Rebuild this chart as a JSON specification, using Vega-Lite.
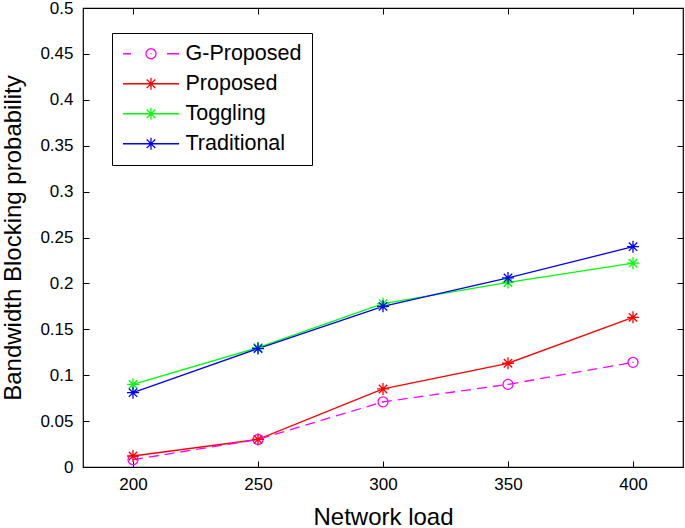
{
  "$schema": "https://vega.github.io/schema/vega-lite/v6.json",
  "width": 600,
  "height": 459,
  "autosize": "none",
  "padding": {"left": 83, "top": 8, "right": 2, "bottom": 61},
  "background": "white",
  "config": {
    "font": "Liberation Sans",
    "view": {"stroke": "black", "strokeWidth": 1.2},
    "axis": {"grid": false, "domain": false, "tickColor": "black", "tickSize": -6, "labelColor": "black", "labelFontSize": 17, "labelFont": "Liberation Sans", "titleFont": "Liberation Sans", "titleFontWeight": "normal", "titleFontSize": 24, "titleColor": "black"},
    "legend": {
      "orient": "none", "legendX": 29, "legendY": 25,
      "padding": 10, "strokeColor": "black", "fillColor": "white",
      "labelFontSize": 21.5, "labelFont": "Liberation Sans", "labelColor": "black",
      "symbolSize": 100, "labelOffset": 42, "rowPadding": 7
    }
  },
  "data": {
    "values": [
      {"load": 200, "series": "G-Proposed", "p": 0.008},
      {"load": 250, "series": "G-Proposed", "p": 0.030},
      {"load": 300, "series": "G-Proposed", "p": 0.071},
      {"load": 350, "series": "G-Proposed", "p": 0.090},
      {"load": 400, "series": "G-Proposed", "p": 0.114},
      {"load": 200, "series": "Proposed", "p": 0.012},
      {"load": 250, "series": "Proposed", "p": 0.030},
      {"load": 300, "series": "Proposed", "p": 0.085},
      {"load": 350, "series": "Proposed", "p": 0.113},
      {"load": 400, "series": "Proposed", "p": 0.163},
      {"load": 200, "series": "Toggling", "p": 0.090},
      {"load": 250, "series": "Toggling", "p": 0.130},
      {"load": 300, "series": "Toggling", "p": 0.178},
      {"load": 350, "series": "Toggling", "p": 0.201},
      {"load": 400, "series": "Toggling", "p": 0.222},
      {"load": 200, "series": "Traditional", "p": 0.081},
      {"load": 250, "series": "Traditional", "p": 0.129},
      {"load": 300, "series": "Traditional", "p": 0.175},
      {"load": 350, "series": "Traditional", "p": 0.206},
      {"load": 400, "series": "Traditional", "p": 0.240}
    ]
  },
  "layer": [
    {
      "transform": [{"filter": "datum.series !== 'G-Proposed'"}],
      "mark": {"type": "line", "strokeWidth": 1.3},
      "encoding": {
        "x": {"field": "load", "type": "quantitative", "scale": {"domain": [180, 420], "nice": false, "zero": false}, "axis": {"values": [200, 250, 300, 350, 400], "title": "Network load", "labelPadding": 15, "titlePadding": 13}},
        "y": {"field": "p", "type": "quantitative", "scale": {"domain": [0, 0.5], "nice": false}, "axis": {"values": [0, 0.05, 0.1, 0.15, 0.2, 0.25, 0.3, 0.35, 0.4, 0.45, 0.5], "format": ".2~f", "title": "Bandwidth Blocking probability", "labelPadding": 16, "titlePadding": 14}},
        "color": {
          "field": "series", "type": "nominal",
          "scale": {"domain": ["G-Proposed", "Proposed", "Toggling", "Traditional"], "range": ["#ff00ff", "#ff0000", "#00ff00", "#0000ff"]},
          "legend": {
            "title": null,
            "encoding": {
              "symbols": {
                "shape": {"value": {"expr": "datum.value === 'G-Proposed' ? 'M-5.6,0L-4,0M3.2,0L5.6,0M-1,0A1,1 0 1,0 1,0A1,1 0 1,0 -1,0M0,-0.1L0,0.1' : 'M-5.6,0L5.6,0M0,-1.2L0,1.2M-0.85,-0.85L0.85,0.85M-0.85,0.85L0.85,-0.85'"}},
                "fill": {"value": "transparent"},
                "strokeDash": {"value": [1, 0]},
                "strokeWidth": {"value": 1.3},
                "opacity": {"value": 1},
                "xc": {"value": 29}
              }
            }
          }
        }
      }
    },
    {
      "transform": [{"filter": "datum.series === 'G-Proposed'"}],
      "mark": {"type": "line", "strokeWidth": 1.3, "strokeDash": [10, 6]},
      "encoding": {
        "x": {"field": "load", "type": "quantitative", "axis": {"orient": "top", "values": [200, 250, 300, 350, 400], "labels": false, "title": null}},
        "y": {"field": "p", "type": "quantitative", "axis": {"orient": "right", "values": [0, 0.05, 0.1, 0.15, 0.2, 0.25, 0.3, 0.35, 0.4, 0.45, 0.5], "labels": false, "title": null}},
        "color": {"field": "series", "type": "nominal"}
      }
    },
    {
      "transform": [{"filter": "datum.series === 'G-Proposed'"}],
      "mark": {"type": "point", "filled": false, "size": 144, "strokeWidth": 1.3, "opacity": 1, "shape": "M-0.83,0A0.83,0.83 0 1,0 0.83,0A0.83,0.83 0 1,0 -0.83,0M0,-0.1L0,0.1"},
      "encoding": {
        "x": {"field": "load", "type": "quantitative", "axis": null},
        "y": {"field": "p", "type": "quantitative", "axis": null},
        "color": {"field": "series", "type": "nominal"}
      }
    },
    {
      "transform": [{"filter": "datum.series !== 'G-Proposed'"}],
      "mark": {"type": "point", "filled": false, "size": 144, "strokeWidth": 1.3, "opacity": 1, "shape": "M-1,0L1,0M0,-1L0,1M-0.7,-0.7L0.7,0.7M-0.7,0.7L0.7,-0.7"},
      "encoding": {
        "x": {"field": "load", "type": "quantitative", "axis": null},
        "y": {"field": "p", "type": "quantitative", "axis": null},
        "color": {"field": "series", "type": "nominal"}
      }
    }
  ],
  "resolve": {"axis": {"x": "independent", "y": "independent"}}
}
